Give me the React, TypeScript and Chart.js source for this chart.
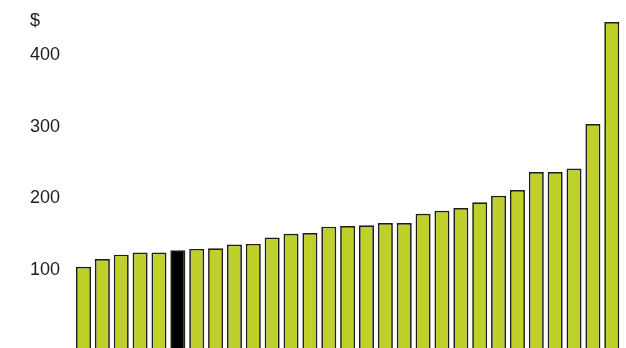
import React, { useEffect, useRef } from "react";
import { Chart, registerables } from "chart.js";

Chart.register(...registerables);

// Ranked items, lowest to highest
const categories: string[] = [
  "1", "2", "3", "4", "5", "6", "7", "8", "9", "10",
  "11", "12", "13", "14", "15", "16", "17", "18", "19", "20",
  "21", "22", "23", "24", "25", "26", "27", "28", "29",
];

// Price in dollars
const values: number[] = [
  113, 124, 130, 133, 133, 136, 138, 139, 144, 145,
  154, 159, 160, 169, 170, 171, 174, 174, 187, 191,
  195, 203, 212, 220, 245, 245, 250, 312, 454,
];

// Index of the highlighted bar
const highlightIndex = 5;

// Y-axis tick values and unit label
const yTicks: number[] = [100, 200, 300, 400];
const unitLabel = "$";

const BAR_COLOR = "#bfd02a";
const HIGHLIGHT_COLOR = "#000000";
const EDGE_COLOR = "#1e1e1e";
const TEXT_COLOR = "#1e1e1e";
const FONT_FAMILY = "'Liberation Sans', Arial, Helvetica, sans-serif";

const unitLabelPlugin = {
  id: "unitLabel",
  afterDraw(chart: any) {
    const { ctx } = chart;
    const yScale = chart.scales.y;
    ctx.save();
    ctx.font = `18px ${FONT_FAMILY}`;
    ctx.fillStyle = TEXT_COLOR;
    ctx.textAlign = "left";
    ctx.textBaseline = "middle";
    ctx.fillText(unitLabel, yScale.left, chart.chartArea.top + 10.5);
    ctx.restore();
  },
};

export default function App() {
  const canvasRef = useRef<HTMLCanvasElement | null>(null);

  useEffect(() => {
    if (!canvasRef.current) return;
    const colors = values.map((_, i) => (i === highlightIndex ? HIGHLIGHT_COLOR : BAR_COLOR));
    const chart = new Chart(canvasRef.current, {
      type: "bar",
      data: {
        labels: categories,
        datasets: [
          {
            data: values,
            backgroundColor: colors,
            borderColor: EDGE_COLOR,
            borderWidth: 1.7,
            borderSkipped: "start",
            categoryPercentage: 1,
            barPercentage: 0.795,
          },
        ],
      },
      options: {
        animation: false,
        responsive: false,
        maintainAspectRatio: false,
        layout: { padding: { left: 30, right: 4.8, top: 10.5, bottom: 0 } },
        plugins: {
          legend: { display: false },
          tooltip: { enabled: false },
          title: { display: false },
        },
        scales: {
          x: { display: false },
          y: {
            min: 0,
            max: 470,
            grid: { display: false },
            border: { display: false },
            afterBuildTicks: (scale: any) => {
              scale.ticks = yTicks.map((v) => ({ value: v }));
            },
            afterFit: (scale: any) => {
              scale.width = 44.07;
              scale.paddingTop = 0;
              scale.paddingBottom = 0;
            },
            ticks: {
              crossAlign: "far",
              labelOffset: -6,
              padding: 0,
              color: TEXT_COLOR,
              font: { family: FONT_FAMILY, size: 18 },
            },
          },
        },
      },
      plugins: [unitLabelPlugin],
    });
    return () => chart.destroy();
  }, []);

  return (
    <div style={{ position: "fixed", left: 0, top: 0, width: 626, height: 348, background: "#fff" }}>
      <canvas ref={canvasRef} width={626} height={348} style={{ display: "block" }} />
    </div>
  );
}
